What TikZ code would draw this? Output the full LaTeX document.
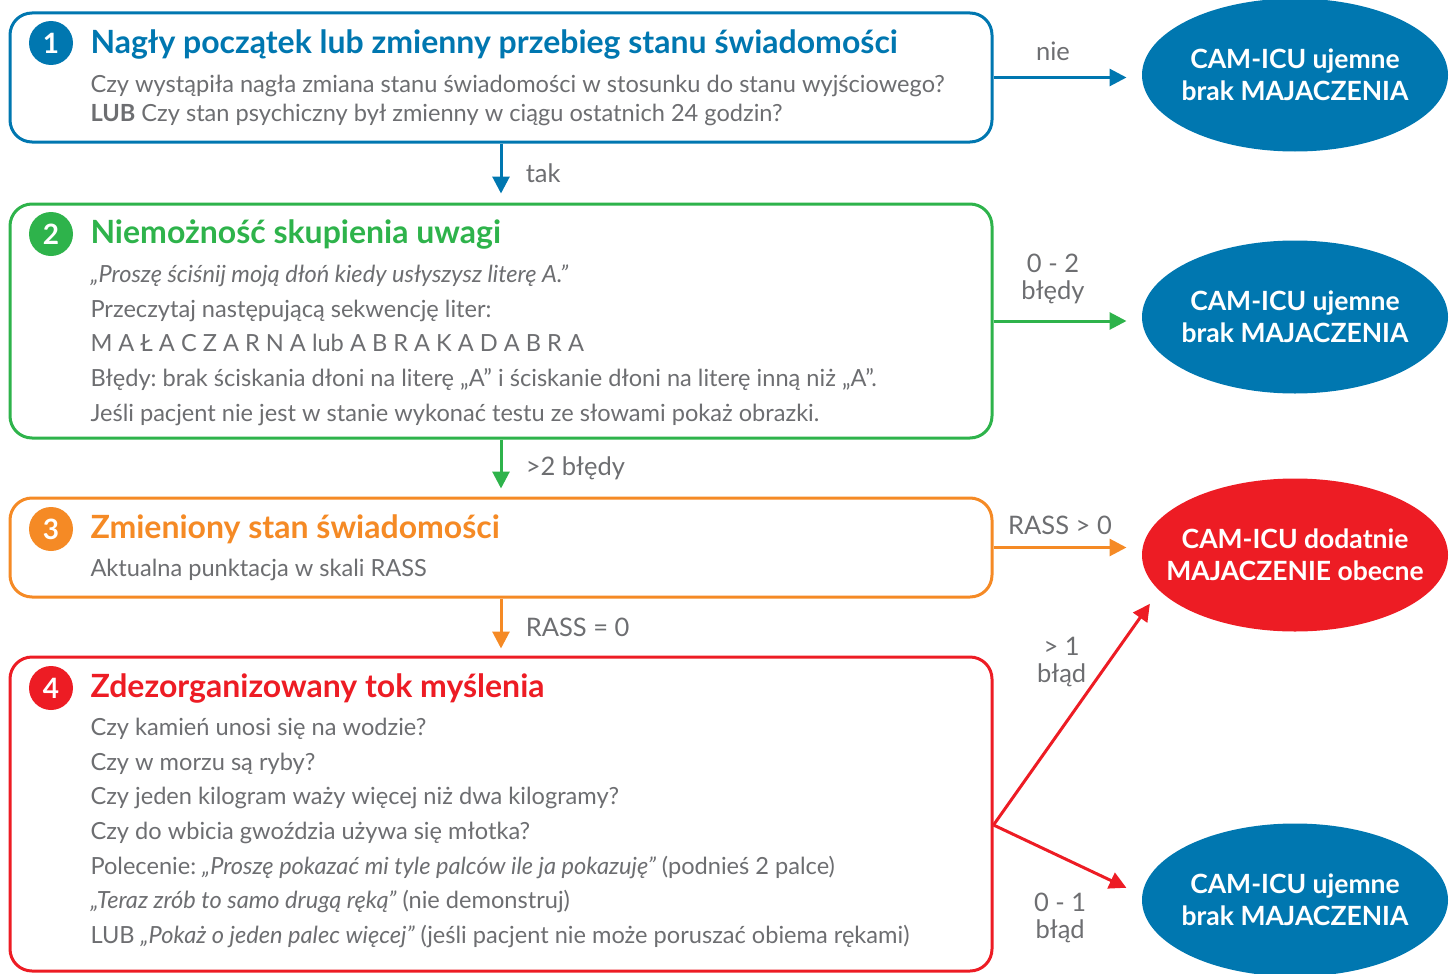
\documentclass[tikz,border=0pt]{standalone}
\usepackage{fontspec}
\setmainfont{Lato}
\usetikzlibrary{shapes, arrows.meta, calc}

\definecolor{camblue}{HTML}{0077B0}
\definecolor{camgreen}{HTML}{2EB34B}
\definecolor{camorange}{HTML}{F58A25}
\definecolor{camred}{HTML}{ED1C24}
\definecolor{camgray}{HTML}{6D6E71}

\begin{document}
\frenchspacing
\begin{tikzpicture}[
    x = 1pt, y = -1pt,
    line width = 3pt,
    stepbox/.style = {draw,
      rounded corners = 22pt,
      fill = white,
      minimum width = 982pt,
      inner sep = 0pt},
    number/.style = {circle,
      fill,
      inner sep = 0pt,
      minimum size = 44pt,
      text = white,
      font = \fontsize{28}{28}\selectfont\bfseries},
    heading/.style = {anchor = west,
      inner sep = 0pt,
      font = \fontsize{32}{32}\selectfont\bfseries},
    body/.style = {anchor = west,
      align = left,
      inner sep = 0pt,
      text = camgray,
      font = \fontsize{23.6}{34.7}\selectfont},
    result/.style = {ellipse,
      fill,
      minimum width = 306pt,
      minimum height = 153pt,
      inner xsep = -24pt,
      inner ysep = 0pt,
      text = white,
      align = center,
      font = \fontsize{26.5}{32}\selectfont\bfseries},
    answer/.style = {text = camgray,
      align = center,
      font = \fontsize{25.5}{27}\selectfont},
    flow/.style = {-{Triangle[length = 17pt, width = 17pt]}}
    ]
    \useasboundingbox (0, 0) rectangle (1456, 974);

    \node at (501, 77.5) [stepbox, draw = camblue, minimum height = 129pt, name = nagly] {};
    \node at (501, 321) [stepbox, draw = camgreen, minimum height = 234pt, name = uwaga] {};
    \node at (501, 547.5) [stepbox, draw = camorange, minimum height = 99pt, name = swiad] {};
    \node at (501, 814) [stepbox, draw = camred, minimum height = 314pt, name = tok] {};

    \node at (51, 43) [number, fill = camblue, name = n1] {1};
    \node at (51, 234) [number, fill = camgreen, name = n2] {2};
    \node at (51, 529) [number, fill = camorange, name = n3] {3};
    \node at (51, 688) [number, fill = camred, name = n4] {4};

    \node at (89, 45) [heading, text = camblue, name = h1] {Nagły początek lub zmienny przebieg stanu świadomości};
    \node at (89, 234) [heading, text = camgreen, name = h2] {Niemożność skupienia uwagi};
    \node at (89, 529) [heading, text = camorange, name = h3] {Zmieniony stan świadomości};
    \node at (89, 688) [heading, text = camred, name = h4] {Zdezorganizowany tok myślenia};

    \node at (89, 100) [body, font = \fontsize{23.6}{29}\selectfont, name = t1]
      {Czy wystąpiła nagła zmiana stanu świadomości w stosunku do stanu wyjściowego?\\
       \textbf{LUB} Czy stan psychiczny był zmienny w ciągu ostatnich 24 godzin?};
    \node at (89, 345) [body, name = t2]
      {\textit{„Proszę ściśnij moją dłoń kiedy usłyszysz literę A.”}\\
       Przeczytaj następującą sekwencję liter:\\
       M A Ł A C Z A R N A lub A B R A K A D A B R A\\
       Błędy: brak ściskania dłoni na literę „A” i ściskanie dłoni na literę inną niż „A”.\\
       Jeśli pacjent nie jest w stanie wykonać testu ze słowami pokaż obrazki.};
    \node at (89, 570) [body, name = t3] {Aktualna punktacja w skali RASS};
    \node at (89, 833) [body, name = t4]
      {Czy kamień unosi się na wodzie?\\
       Czy w morzu są ryby?\\
       Czy jeden kilogram waży więcej niż dwa kilogramy?\\
       Czy do wbicia gwoździa używa się młotka?\\
       Polecenie: \textit{„Proszę pokazać mi tyle palców ile ja pokazuję”} (podnieś 2 palce)\\
       \textit{„Teraz zrób to samo drugą ręką”} (nie demonstruj)\\
       LUB \textit{„Pokaż o jeden palec więcej”} (jeśli pacjent nie może poruszać obiema rękami)};

    \node at (1295, 75) [result, fill = camblue, name = neg1] {CAM-ICU ujemne\\brak MAJACZENIA};
    \node at (1295, 317) [result, fill = camblue, name = neg2] {CAM-ICU ujemne\\brak MAJACZENIA};
    \node at (1295, 555) [result, fill = camred, name = pos] {CAM-ICU dodatnie\\MAJACZENIE obecne};
    \node at (1295, 900) [result, fill = camblue, name = neg3] {CAM-ICU ujemne\\brak MAJACZENIA};

    \coordinate (split) at ([yshift = -11pt] tok.east);

    \draw [flow, camblue, shorten > = 14pt] (nagly.east) to node [answer, above = 12pt, xshift = -14pt] {nie} (nagly.east -| neg1.west);
    \draw [flow, camblue, shorten > = 9pt] (nagly.south) to node [answer, right = 20pt] {tak} (uwaga.north);
    \draw [flow, camgreen, shorten > = 14pt] (uwaga.east) to node [answer, above = 12pt, xshift = -14pt] {0 - 2\\błędy} (uwaga.east -| neg2.west);
    \draw [flow, camgreen, shorten > = 8pt] (uwaga.south) to node [answer, right = 20pt] {>2 błędy} (swiad.north);
    \draw [flow, camorange, shorten > = 14pt] (swiad.east) to node [answer, above = 8pt, xshift = -7pt] {RASS > 0} (swiad.east -| pos.west);
    \draw [flow, camorange, shorten > = 7pt] (swiad.south) to node [answer, right = 20pt] {RASS = 0} (tok.north);
    \draw [flow, camred, shorten > = 15pt] (split) to node [answer, pos = 0.7, left = 18pt] {> 1\\błąd} (pos.195);
    \draw [flow, camred, shorten > = 16pt] (split) to node [answer, below = 28pt, xshift = -7pt] {0 - 1\\błąd} (neg3.178);

  \end{tikzpicture}
\end{document}
